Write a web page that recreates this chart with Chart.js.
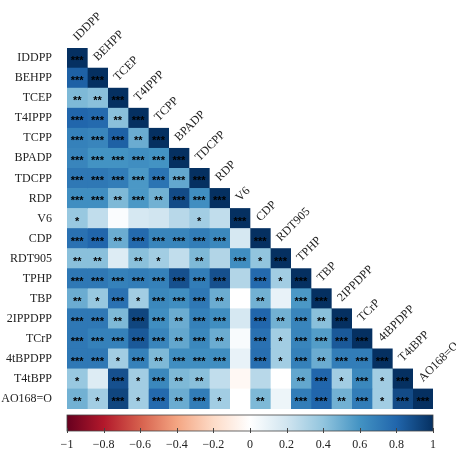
<!DOCTYPE html>
<html>
<head>
<meta charset="utf-8">
<script src="https://cdn.jsdelivr.net/npm/chart.js@4.4.0/dist/chart.umd.min.js"></script>
<style>
html, body { margin: 0; padding: 0; background: #fff; overflow: hidden; }
#wrap { width: 456px; height: 454px; }
#wrap canvas { display: block; }
</style>
</head>
<body>
<div id="wrap"><canvas id="corrChart"></canvas></div>
<script>
// compounds, same order on both axes
const compounds = ['IDDPP', 'BEHPP', 'TCEP', 'T4IPPP', 'TCPP', 'BPADP', 'TDCPP', 'RDP', 'V6', 'CDP',
    'RDT905', 'TPHP', 'TBP', '2IPPDPP', 'TCrP', '4tBPDPP', 'T4tBPP', 'AO168=O']

// lower triangle of the correlation matrix, row by row (last value = diagonal)
const corrRows = [
    [1],
    [0.82, 1],
    [0.45, 0.42, 1],
    [0.80, 0.78, 0.42, 1],
    [0.68, 0.66, 0.82, 0.50, 1],
    [0.66, 0.60, 0.60, 0.62, 0.60, 1],
    [0.72, 0.72, 0.70, 0.58, 0.74, 0.52, 1],
    [0.62, 0.62, 0.45, 0.58, 0.48, 0.90, 0.62, 1],
    [0.38, 0.25, 0.02, 0.18, 0.20, 0.28, 0.35, 0.25, 1],
    [0.75, 0.80, 0.50, 0.78, 0.66, 0.66, 0.70, 0.65, 0.18, 1],
    [0.42, 0.42, 0.15, 0.42, 0.35, 0.25, 0.45, 0.30, 0.62, 0.40, 1],
    [0.72, 0.72, 0.68, 0.70, 0.68, 0.88, 0.70, 0.88, 0.30, 0.78, 0.35, 1],
    [0.50, 0.38, 0.75, 0.35, 0.65, 0.62, 0.72, 0.50, 0.00, 0.48, 0.10, 0.58, 1],
    [0.72, 0.72, 0.45, 0.92, 0.62, 0.50, 0.68, 0.62, 0.18, 0.80, 0.48, 0.66, 0.42, 1],
    [0.72, 0.68, 0.68, 0.85, 0.66, 0.52, 0.65, 0.50, 0.03, 0.75, 0.35, 0.66, 0.56, 0.85, 1],
    [0.72, 0.72, 0.35, 0.68, 0.45, 0.62, 0.62, 0.62, 0.10, 0.76, 0.35, 0.68, 0.50, 0.70, 0.70, 1],
    [0.38, 0.15, 0.88, 0.35, 0.65, 0.45, 0.42, 0.25, -0.04, 0.28, 0.00, 0.52, 0.80, 0.35, 0.65, 0.35, 1],
    [0.48, 0.35, 0.92, 0.35, 0.78, 0.50, 0.70, 0.35, 0.00, 0.45, 0.08, 0.70, 0.80, 0.48, 0.70, 0.35, 0.90, 1]
]

// number of stars (significance) for each cell
const sigRows = [
    [3],
    [3, 3],
    [2, 2, 3],
    [3, 3, 2, 3],
    [3, 3, 3, 2, 3],
    [3, 3, 3, 3, 3, 3],
    [3, 3, 3, 3, 3, 3, 3],
    [3, 3, 2, 3, 2, 3, 3, 3],
    [1, 0, 0, 0, 0, 0, 1, 0, 3],
    [3, 3, 2, 3, 3, 3, 3, 3, 0, 3],
    [2, 2, 0, 2, 1, 0, 2, 0, 3, 1, 3],
    [3, 3, 3, 3, 3, 3, 3, 3, 0, 3, 1, 3],
    [2, 1, 3, 1, 3, 3, 3, 2, 0, 2, 0, 3, 3],
    [3, 3, 2, 3, 3, 2, 3, 3, 0, 3, 2, 3, 2, 3],
    [3, 3, 3, 3, 3, 2, 3, 2, 0, 3, 1, 3, 3, 3, 3],
    [3, 3, 1, 3, 2, 3, 3, 3, 0, 3, 1, 3, 2, 3, 3, 3],
    [1, 0, 3, 1, 3, 2, 2, 0, 0, 0, 0, 2, 3, 1, 3, 1, 3],
    [2, 1, 3, 1, 3, 2, 3, 1, 0, 2, 0, 3, 3, 2, 3, 1, 3, 3]
]

const colorbarTicks = [-1, -0.8, -0.6, -0.4, -0.2, 0, 0.2, 0.4, 0.6, 0.8, 1]

// RdBu, -1 .. 1
const palette = ['#67001F', '#B2182B', '#D6604D', '#F4A582', '#FDDBC7', '#FFFFFF',
    '#D1E5F0', '#92C5DE', '#4393C3', '#2166AC', '#053061']

function hexToRgb(h) {
    return [parseInt(h.slice(1, 3), 16), parseInt(h.slice(3, 5), 16), parseInt(h.slice(5, 7), 16)]
}

function colorFor(v) {
    const t = (v + 1) / 2 * (palette.length - 1)
    const i = Math.min(Math.floor(t), palette.length - 2)
    const f = t - i
    const a = hexToRgb(palette[i])
    const b = hexToRgb(palette[i + 1])
    const c = a.map((x, k) => Math.round(x + (b[k] - x) * f))
    return `rgb(${c[0]}, ${c[1]}, ${c[2]})`
}

const serif = 'Liberation Serif'

// one dataset per column, floating bars [col, col + 1]
const datasets = compounds.map((name, c) => ({
    label: name,
    data: compounds.map((_, r) => r >= c ? [c, c + 1] : null),
    backgroundColor: compounds.map((_, r) => r >= c ? colorFor(corrRows[r][c]) : 'rgba(0,0,0,0)'),
    borderWidth: 0,
    categoryPercentage: 1,
    barPercentage: 1,
    grouped: false
}))

const starsPlugin = {
    id: 'stars',
    afterDatasetsDraw(chart) {
        const ctx = chart.ctx
        ctx.save()
        ctx.fillStyle = '#000'
        ctx.font = 'bold 11px "Liberation Sans"'
        ctx.textAlign = 'center'
        ctx.textBaseline = 'middle'
        compounds.forEach((_, c) => {
            const meta = chart.getDatasetMeta(c)
            compounds.forEach((_, r) => {
                if (r < c) return
                const n = sigRows[r][c]
                if (!n) return
                const p = meta.data[r].getCenterPoint()
                ctx.fillText('*'.repeat(n), p.x, p.y + 3)
            })
        })
        ctx.restore()
    }
}

const columnLabels = {
    id: 'columnLabels',
    afterDraw(chart) {
        const ctx = chart.ctx
        const xs = chart.scales.x
        const ys = chart.scales.y
        const rowH = ys.height / compounds.length
        ctx.save()
        ctx.fillStyle = '#222'
        ctx.font = '12px "' + serif + '"'
        ctx.textAlign = 'left'
        ctx.textBaseline = 'middle'
        compounds.forEach((name, c) => {
            const cx = xs.getPixelForValue(c + 0.5)
            const top = ys.getPixelForValue(c) - rowH / 2
            ctx.save()
            ctx.translate(cx - 2, top - 9)
            ctx.rotate(-Math.PI / 4)
            ctx.fillText(name, 0, 0)
            ctx.restore()
        })
        ctx.restore()
    }
}

const colorbar = {
    id: 'colorbar',
    afterDraw(chart) {
        const ctx = chart.ctx
        const cb = chart.scales.cb
        const left = cb.getPixelForValue(-1)
        const right = cb.getPixelForValue(1)
        const y0 = chart.chartArea.bottom + 6
        const h = 16
        const grad = ctx.createLinearGradient(left, 0, right, 0)
        palette.forEach((col, i) => grad.addColorStop(i / (palette.length - 1), col))
        ctx.save()
        ctx.fillStyle = grad
        ctx.fillRect(left, y0, right - left, h)
        ctx.strokeStyle = '#444'
        ctx.lineWidth = 0.8
        ctx.strokeRect(left, y0, right - left, h)
        ctx.lineWidth = 1
        colorbarTicks.forEach(v => {
            const x = Math.round(cb.getPixelForValue(v)) + 0.5
            ctx.beginPath()
            ctx.moveTo(x, y0 + h - 3)
            ctx.lineTo(x, y0 + h + 2)
            ctx.stroke()
        })
        ctx.restore()
    }
}

new Chart(document.getElementById('corrChart'), {
    type: 'bar',
    data: {
        labels: compounds,
        datasets: datasets
    },
    options: {
        indexAxis: 'y',
        responsive: true,
        maintainAspectRatio: false,
        animation: false,
        layout: { padding: { top: 48, right: 23, left: 0, bottom: 0 } },
        plugins: {
            legend: { display: false },
            tooltip: { enabled: false }
        },
        scales: {
            x: {
                type: 'linear',
                min: 0,
                max: compounds.length,
                display: false
            },
            y: {
                type: 'category',
                grid: { display: false },
                border: { display: false },
                ticks: {
                    color: '#222',
                    padding: 7,
                    autoSkip: false,
                    font: { family: serif, size: 12 }
                },
                afterFit(s) { s.width = 67 }
            },
            cb: {
                type: 'linear',
                axis: 'x',
                position: 'bottom',
                min: -1,
                max: 1,
                afterBuildTicks(s) { s.ticks = colorbarTicks.map(v => ({ value: v })) },
                // invisible tick marks only push the labels below the colour bar
                grid: { display: true, drawOnChartArea: false, drawTicks: true, tickLength: 27, color: 'rgba(0,0,0,0)' },
                border: { display: false },
                ticks: {
                    color: '#222',
                    padding: 2,
                    maxRotation: 0,
                    autoSkip: false,
                    font: { family: serif, size: 12 },
                    callback: v => String(+v.toFixed(1)).replace('-', '\u2212')
                },
                afterFit(s) { s.height = 45 }
            }
        }
    },
    plugins: [starsPlugin, columnLabels, colorbar]
});
</script>
</body>
</html>
